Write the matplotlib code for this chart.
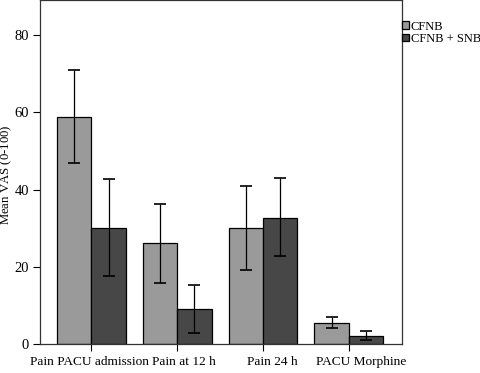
import numpy as np
import matplotlib.pyplot as plt
import matplotlib.transforms as mtransforms

plt.rcParams['font.family'] = ['Liberation Serif', 'DejaVu Serif']

categories = ['Pain PACU admission', 'Pain at 12 h', 'Pain 24 h', 'PACU Morphine']
cfnb = [58.8, 26.1, 30.0, 5.5]
cfnb_lo = [46.8, 15.7, 19.3, 4.2]
cfnb_hi = [70.9, 36.2, 41.0, 6.9]
snb = [30.1, 9.1, 32.6, 2.15]
snb_lo = [17.6, 2.9, 22.7, 1.0]
snb_hi = [42.7, 15.2, 43.0, 3.3]

fig = plt.figure(figsize=(4.8, 3.73), dpi=100)
ax = fig.add_axes([0.0833, 0.0777, 0.7542, 0.921])

x = np.arange(len(categories))
w = 0.4
err1 = [np.array(cfnb) - np.array(cfnb_lo), np.array(cfnb_hi) - np.array(cfnb)]
err2 = [np.array(snb) - np.array(snb_lo), np.array(snb_hi) - np.array(snb)]
ax.bar(x - w / 2, cfnb, w, color='#9a9a9a', edgecolor='black', linewidth=0.9, label='CFNB')
ax.bar(x + w / 2, snb, w, color='#474747', edgecolor='black', linewidth=0.9, label='CFNB + SNB')
ax.errorbar(x - w / 2, cfnb, yerr=err1, fmt='none', ecolor='black', elinewidth=0.9, capsize=4, capthick=1.2)
ax.errorbar(x + w / 2, snb, yerr=err2, fmt='none', ecolor='black', elinewidth=0.9, capsize=4, capthick=1.2)

ax.set_xlim(-0.6, 3.62)
ax.set_ylim(0, 89)
ax.set_yticks([0, 20, 40, 60, 80])
ax.set_xticks(x)
ax.set_xticklabels(categories)
ax.tick_params(axis='x', labelsize=9.6, length=5, width=0.8, direction='out')
ax.tick_params(axis='y', labelsize=10.5, length=5, width=0.8, direction='out', pad=3)
# labels in the original sit a little right of their ticks
shifts = [-1.5, 7, 9.5, 12]
for lab, dx in zip(ax.get_xticklabels(), shifts):
    lab.set_transform(lab.get_transform() + mtransforms.ScaledTranslation(dx / 100, 0, fig.dpi_scale_trans))
ax.set_ylabel('Mean VAS (0-100)$^{*}$', fontsize=9.2)
ax.yaxis.set_label_coords(-0.066, 0.5)
for s in ax.spines.values():
    s.set_linewidth(0.9)
    s.set_color('#333333')

fig.legend(loc='upper left', bbox_to_anchor=(0.838, 0.945), frameon=False, fontsize=9,
           handlelength=0.55, handleheight=0.55, handletextpad=0.15, labelspacing=0.05,
           borderaxespad=0, borderpad=0)

fig.savefig('out.png', dpi=100)
